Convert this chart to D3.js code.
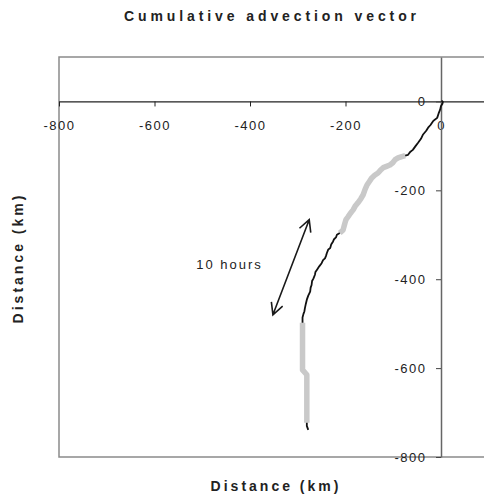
<!DOCTYPE html>
<html><head><meta charset="utf-8">
<script src="https://cdn.jsdelivr.net/npm/d3@7"></script>
<style>
body{margin:0;background:#fff}
svg{display:block}
text{font-family:"Liberation Sans",Arial,sans-serif;fill:#222}
</style>
</head><body>
<svg id="c" width="484" height="495"></svg>
<script>
// ---- data (km) ----
const chartTitle = "Cumulative advection vector";
const xTitle = "Distance (km)";
const yTitle = "Distance (km)";
const xTicks = [-800, -600, -400, -200, 0];
const yTicks = [0, -200, -400, -600, -800];

// track segments, alternating black (thin) and grey (thick)
const blackSeg1 = [[1,2],[4,-1],[3,-5],[0,-10],[-2,-19],[-5,-27],[-8,-37],[-13,-41],[-17,-45],[-22,-53],[-27,-59],[-31,-66],[-38,-75],[-42,-84],[-48,-93],[-53,-100],[-59,-109],[-64,-113],[-69,-120],[-75,-122]];
const greySeg1  = [[-75,-122],[-82,-124],[-90,-127],[-96,-131],[-101,-138],[-107,-143],[-114,-146],[-121,-149],[-127,-155],[-132,-161],[-139,-166],[-145,-172],[-150,-180],[-155,-188],[-159,-198],[-163,-210],[-168,-219],[-174,-228],[-180,-236],[-184,-244],[-190,-252],[-195,-260],[-199,-266],[-201,-273],[-203,-281],[-205,-289],[-212,-296]];
const blackSeg2 = [[-212,-296],[-218,-300],[-220,-306],[-224,-310],[-226,-315],[-230,-322],[-232,-330],[-236,-333],[-239,-341],[-241,-348],[-243,-353],[-247,-357],[-250,-364],[-255,-371],[-260,-379],[-263,-384],[-264,-390],[-267,-398],[-270,-404],[-271,-413],[-273,-419],[-274,-428],[-278,-437],[-281,-446],[-283,-455],[-285,-465],[-286,-472],[-288,-478],[-290,-486],[-290,-498]];
const greySeg2  = [[-290,-498],[-290,-604],[-281,-615],[-281,-723]];
const blackSeg3 = [[-281,-723],[-281,-730],[-278,-739]];

// annotation
const arrowFrom = [-352, -480];
const arrowTo   = [-276, -266];
const noteText = "10 hours";
const notePos = [-443, -366];

// ---- drawing ----
const svg = d3.select("#c");
const x = d3.scaleLinear().domain([-800, 100]).range([59, 488.75]);
const y = d3.scaleLinear().domain([100, -800]).range([57, 457]);
const fmt = d => String(d);

// plot area border
svg.append("rect")
  .attr("x", x(-800)).attr("y", y(100))
  .attr("width", x(100) - x(-800)).attr("height", y(-800) - y(100))
  .attr("fill", "none").attr("stroke", "#8a8a8a").attr("stroke-width", 1.5);

// x axis through y=0
const gx = svg.append("g").attr("transform", `translate(0,${y(0)})`)
  .call(d3.axisBottom(x).tickValues(xTicks).tickSize(5).tickSizeOuter(0).tickPadding(14).tickFormat(fmt));
gx.select(".domain").attr("stroke", "#222").attr("stroke-width", 1.2);
gx.selectAll(".tick line").attr("stroke", "#222");
gx.selectAll(".tick text").attr("font-size", 13).attr("fill", "#222")
  .attr("font-family", '"Liberation Sans",Arial,sans-serif').style("letter-spacing", "1.5px");

// y axis through x=0
const gy = svg.append("g").attr("transform", `translate(${x(0)},0)`)
  .call(d3.axisLeft(y).tickValues(yTicks).tickSize(5).tickSizeOuter(0).tickPadding(9.5).tickFormat(fmt));
gy.select(".domain").attr("stroke", "#666").attr("stroke-width", 1.5);
gy.selectAll(".tick line").attr("stroke", "#444");
gy.selectAll(".tick text").attr("font-size", 13).attr("fill", "#222")
  .attr("font-family", '"Liberation Sans",Arial,sans-serif').style("letter-spacing", "1.5px");

// track
const line = d3.line().x(d => x(d[0])).y(d => y(d[1]));
[greySeg1, greySeg2].forEach(seg => {
  svg.append("path").attr("d", line(seg)).attr("fill", "none")
    .attr("stroke", "#c9c9c9").attr("stroke-width", 5.5).attr("stroke-linejoin", "round");
});
[blackSeg1, blackSeg2, blackSeg3].forEach(seg => {
  svg.append("path").attr("d", line(seg)).attr("fill", "none")
    .attr("stroke", "#111").attr("stroke-width", 1.8).attr("stroke-linejoin", "round");
});

// double-headed arrow
const ax1 = x(arrowFrom[0]), ay1 = y(arrowFrom[1]), ax2 = x(arrowTo[0]), ay2 = y(arrowTo[1]);
const ang = Math.atan2(ay2 - ay1, ax2 - ax1);
const hl = 13, ha = Math.PI / 6.5;
function head(px, py, a) {
  return `M${px + hl * Math.cos(a + ha)},${py + hl * Math.sin(a + ha)}L${px},${py}L${px + hl * Math.cos(a - ha)},${py + hl * Math.sin(a - ha)}`;
}
svg.append("path")
  .attr("d", `M${ax1},${ay1}L${ax2},${ay2}` + head(ax2, ay2, ang + Math.PI) + head(ax1, ay1, ang))
  .attr("fill", "none").attr("stroke", "#1a1a1a").attr("stroke-width", 1.6);

svg.append("text").attr("x", x(notePos[0])).attr("y", y(notePos[1]))
  .attr("text-anchor", "middle").attr("dy", "0.35em").attr("font-size", 13)
  .style("letter-spacing", "2px").text(noteText);

// titles
svg.append("text").attr("x", 272).attr("y", 21).attr("text-anchor", "middle")
  .attr("font-size", 14).attr("font-weight", "bold").style("letter-spacing", "3.9px").text(chartTitle);
svg.append("text").attr("x", 276).attr("y", 491).attr("text-anchor", "middle")
  .attr("font-size", 14).attr("font-weight", "bold").style("letter-spacing", "3px").text(xTitle);
svg.append("text").attr("transform", "translate(23,258) rotate(-90)").attr("text-anchor", "middle")
  .attr("font-size", 14).attr("font-weight", "bold").style("letter-spacing", "3px").text(yTitle);
</script>
</body></html>
